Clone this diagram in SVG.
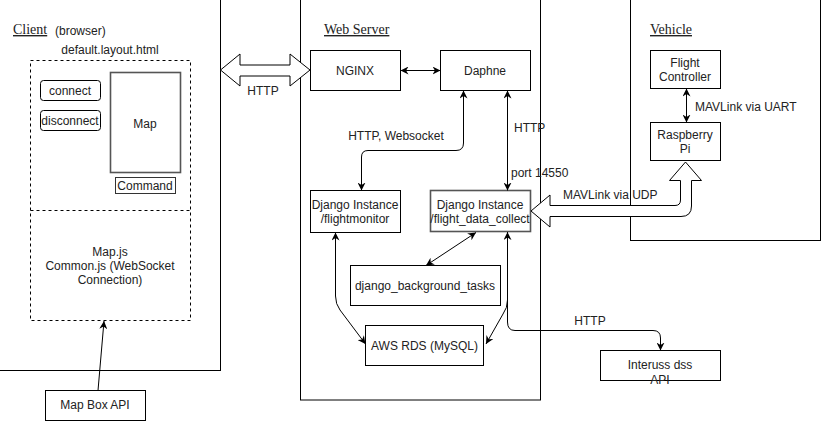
<svg xmlns="http://www.w3.org/2000/svg" width="821" height="421" viewBox="0 0 821 421">
<style>
  .box { fill: #fff; stroke: #000; stroke-width: 1; }
  .gbox { fill: #fff; stroke: #555; stroke-width: 1.6; }
  .dash { fill: none; stroke: #000; stroke-width: 1; stroke-dasharray: 3 3; }
  .t { font-family: "Liberation Sans", Arial, sans-serif; font-size: 12px; fill: #222; }
  .c { text-anchor: middle; }
  .title { font-family: "Liberation Serif", "Times New Roman", serif; font-size: 14px; fill: #222; text-decoration: underline; }
  .edge { fill: none; stroke: #000; stroke-width: 1; }
  .flat { fill: #fff; stroke: #000; stroke-width: 1; }
</style>
<defs>
  <marker id="ah" viewBox="0 0 10 10" refX="10" refY="5" markerWidth="8" markerHeight="8" markerUnits="userSpaceOnUse" orient="auto-start-reverse">
    <path d="M0,0 L10,5 L0,10 L3,5 Z" fill="#000"/>
  </marker>
</defs>
<rect width="821" height="421" fill="#fff"/>

<g id="client">
  <rect class="box" x="-10" y="-10" width="230.5" height="380.5"/>
  <text class="title" x="13" y="34">Client</text>
  <text class="t" x="55" y="35">(browser)</text>
  <text class="t c" x="110" y="54">default.layout.html</text>
</g>
<g id="layout">
  <rect class="dash" x="30.5" y="60.5" width="160" height="260"/>
  <line class="dash" x1="30.5" y1="210.5" x2="190.5" y2="210.5"/>
</g>
<g id="connect">
  <rect class="box" x="40.5" y="80.5" width="60" height="20" rx="3"/>
  <text class="t c" x="70" y="95">connect</text>
</g>
<g id="disconnect">
  <rect class="box" x="40.5" y="110.5" width="60" height="20" rx="3"/>
  <text class="t c" x="70" y="125">disconnect</text>
</g>
<g id="map">
  <rect class="gbox" x="110.5" y="72.5" width="70" height="100"/>
  <text class="t c" x="145" y="128">Map</text>
</g>
<g id="command">
  <rect class="box" x="115.5" y="177.5" width="60" height="16" style="stroke:#333"/>
  <text class="t c" x="145" y="190">Command</text>
</g>
<g id="scripts">
  <text class="t c" x="110" y="256">Map.js</text>
  <text class="t c" x="110" y="270">Common.js (WebSocket</text>
  <text class="t c" x="110" y="284">Connection)</text>
</g>
<g id="mapbox">
  <rect class="box" x="45.5" y="390.5" width="100" height="30"/>
  <text class="t c" x="95" y="409">Map Box API</text>
</g>

<g id="webserver">
  <rect class="box" x="300.5" y="-10" width="240" height="410"/>
  <text class="title" x="324" y="34">Web Server</text>
</g>
<g id="nginx">
  <rect class="box" x="310.5" y="50.5" width="90" height="40"/>
  <text class="t c" x="355" y="75">NGINX</text>
</g>
<g id="daphne">
  <rect class="box" x="440.5" y="50.5" width="90" height="40"/>
  <text class="t c" x="485" y="75">Daphne</text>
</g>
<g id="flightmonitor">
  <rect class="box" x="310.5" y="190.5" width="90" height="42"/>
  <text class="t c" x="355" y="209">Django Instance</text>
  <text class="t c" x="355" y="223">/flightmonitor</text>
</g>
<g id="flightdata">
  <rect class="gbox" x="430.5" y="190.5" width="100" height="41"/>
  <text class="t c" x="480" y="209">Django Instance</text>
  <text class="t c" x="480" y="223">/flight_data_collect</text>
</g>
<g id="bgtasks">
  <rect class="box" x="350.5" y="265.5" width="150" height="40"/>
  <text class="t c" x="425" y="290">django_background_tasks</text>
</g>
<g id="aws">
  <rect class="box" x="365.5" y="325.5" width="118" height="40"/>
  <text class="t c" x="424.5" y="350">AWS RDS (MySQL)</text>
</g>

<g id="vehicle">
  <rect class="box" x="630.5" y="-10" width="190" height="250.5"/>
  <text class="title" x="650" y="34">Vehicle</text>
</g>
<g id="fc">
  <rect class="box" x="650.5" y="50.5" width="70" height="38"/>
  <text class="t c" x="685" y="67">Flight</text>
  <text class="t c" x="685" y="81">Controller</text>
</g>
<g id="rpi">
  <rect class="box" x="650.5" y="122.5" width="70" height="38"/>
  <text class="t c" x="685" y="139">Raspberry</text>
  <text class="t c" x="685" y="153">Pi</text>
</g>
<g id="interuss">
  <rect class="box" x="600.5" y="350.5" width="120" height="30"/>
  <text class="t c" x="660" y="369">Interuss dss</text>
  <text class="t c" x="660" y="384">API</text>
</g>

<g id="connectors">
  <path class="flat" d="M220.5,70 L240,54 V65 H290 V54 L310,70 L290,86 V76 H240 V86 Z"/>
  <text class="t c" x="263" y="95">HTTP</text>

  <path class="edge" d="M400.5,70.5 H440.5" marker-start="url(#ah)" marker-end="url(#ah)"/>
  <path class="edge" d="M463.5,90.5 V143 Q463.5,150.5 456,150.5 H368 Q361.5,150.5 361.5,157 V190.5" marker-start="url(#ah)" marker-end="url(#ah)"/>
  <text class="t c" x="396" y="140">HTTP, Websocket</text>
  <path class="edge" d="M507.5,90.5 V190.5" marker-start="url(#ah)" marker-end="url(#ah)"/>
  <text class="t" x="514" y="132">HTTP</text>
  <text class="t" x="511" y="177">port 14550</text>

  <path class="edge" d="M476,232.5 L426,265.5" marker-start="url(#ah)" marker-end="url(#ah)"/>
  <path class="edge" d="M335.5,232.5 V296 Q335.5,304 340,310 L365.5,344" marker-start="url(#ah)" marker-end="url(#ah)"/>
  <path class="edge" d="M507.5,232 V300 Q507.5,308 503,314 L486,344" marker-start="url(#ah)" marker-end="url(#ah)"/>
  <path class="edge" d="M507.5,300 V322 Q507.5,330.5 515,330.5 H653 Q660.5,330.5 660.5,338 V350.5" marker-end="url(#ah)"/>
  <text class="t c" x="590" y="325">HTTP</text>

  <path class="edge" d="M686.5,88.5 V122.5" marker-start="url(#ah)" marker-end="url(#ah)"/>
  <text class="t" x="695" y="111">MAVLink via UART</text>

  <path class="flat" d="M531,211 L550,195 V205.5 H675 Q680.5,205.5 680.5,200 V180.5 H669.5 L685.5,162 L701.5,180.5 H691.5 V206 Q691.5,216.5 681,216.5 H550 V227 Z"/>
  <text class="t" x="563" y="199">MAVLink via UDP</text>

  <path class="edge" d="M98,390.5 L104,321" marker-end="url(#ah)"/>
</g>
</svg>
